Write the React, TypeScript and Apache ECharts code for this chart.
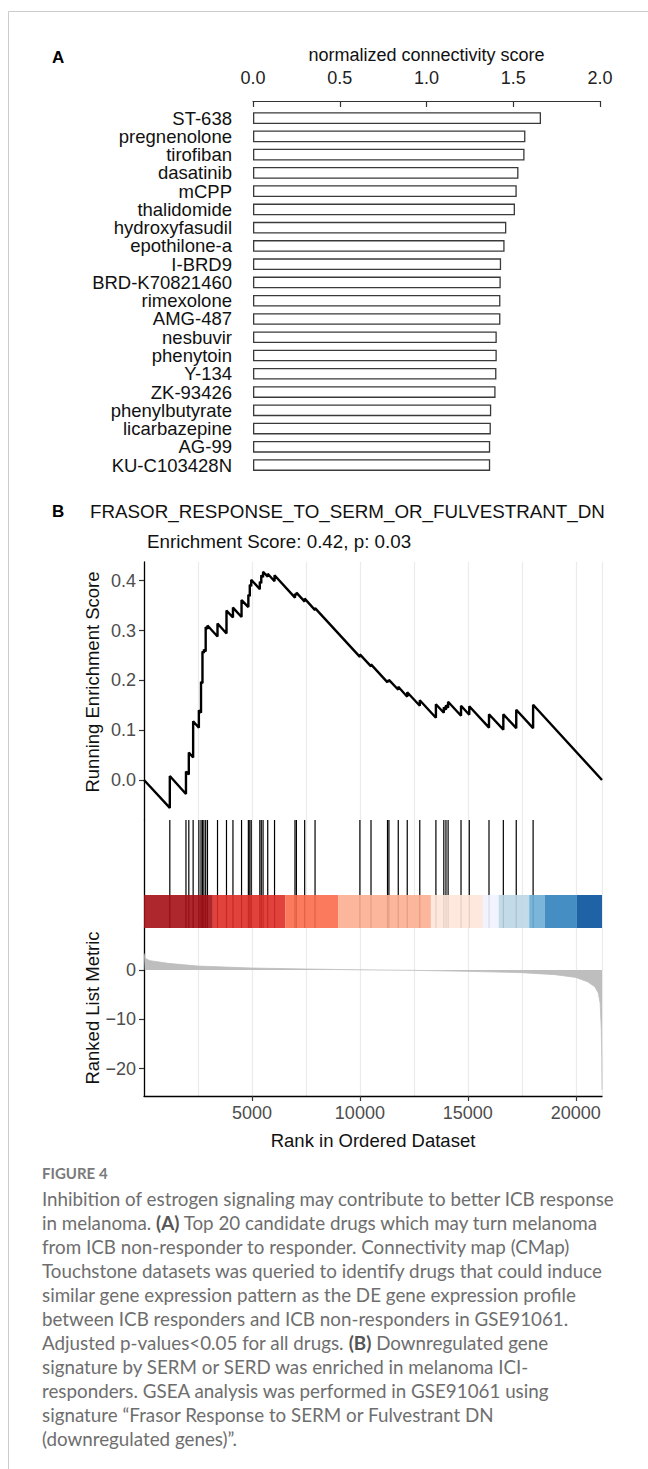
import React, { useEffect, useRef } from 'react';
import * as echarts from 'echarts';

// ---------- Panel A data ----------
const drugNames = [
  'ST-638', 'pregnenolone', 'tirofiban', 'dasatinib', 'mCPP', 'thalidomide',
  'hydroxyfasudil', 'epothilone-a', 'I-BRD9', 'BRD-K70821460', 'rimexolone',
  'AMG-487', 'nesbuvir', 'phenytoin', 'Y-134', 'ZK-93426', 'phenylbutyrate',
  'licarbazepine', 'AG-99', 'KU-C103428N',
];
const drugScores = [
  1.66, 1.57, 1.565, 1.53, 1.52, 1.51, 1.46, 1.45, 1.43, 1.428, 1.426,
  1.426, 1.405, 1.405, 1.403, 1.398, 1.373, 1.371, 1.367, 1.367,
];
const scoreTicks = [0, 0.5, 1, 1.5, 2];

// ---------- Panel B data ----------
const totalGenes = 21214;
const hitRanks = [
  1196, 1944, 2076, 2276, 2541, 2641, 2708, 2774, 2857, 2940, 3405, 3821, 4120,
  4518, 4834, 4900, 4967, 5365, 5432, 5515, 5731, 6046, 6993, 7060, 7442, 7923,
  10000, 10515, 11279, 11345, 11777, 12193, 12774, 13521, 13887, 13986, 14086,
  14684, 15066, 15980, 16644, 17242, 18023,
];
// running enrichment score just before and just after each hit
const esBefore = [
  -0.056, -0.028, 0.011, 0.045, 0.105, 0.135, 0.194, 0.255, 0.258, 0.303, 0.288,
  0.294, 0.326, 0.327, 0.347, 0.369, 0.389, 0.383, 0.395, 0.407, 0.408, 0.399,
  0.366, 0.371, 0.358, 0.341, 0.247, 0.228, 0.196, 0.197, 0.181, 0.167, 0.149,
  0.125, 0.135, 0.141, 0.145, 0.129, 0.131, 0.105, 0.101, 0.104, 0.104,
];
const esAfter = [
  0.008, 0.017, 0.055, 0.118, 0.14, 0.197, 0.258, 0.262, 0.307, 0.31, 0.314,
  0.34, 0.346, 0.361, 0.372, 0.392, 0.402, 0.398, 0.411, 0.418, 0.414, 0.411,
  0.374, 0.376, 0.364, 0.345, 0.252, 0.232, 0.2, 0.201, 0.187, 0.176, 0.16,
  0.152, 0.146, 0.15, 0.157, 0.149, 0.148, 0.132, 0.132, 0.141, 0.151,
];
const esStart = 0;
const esEnd = 0;
const esTicks = [0, 0.1, 0.2, 0.3, 0.4];

const bandStarts = [0, 3189, 6545, 9003, 13289, 15697, 16428, 17840, 18555, 20050];
const bandEnds = [3189, 6545, 9003, 13289, 15697, 16428, 17840, 18555, 20050, 21214];
const bandColors = [
  '#A50F15', '#DE2D26', '#FB6A4A', '#FCAE91', '#FEE5D9',
  '#EFF3FF', '#BDD7E7', '#6BAED6', '#3182BD', '#08519C',
];

const metricRanks = [
  0, 30, 116, 282, 1113, 2500, 5000, 7500, 10000, 12500, 15000, 17500, 19050,
  20000, 20550, 20880, 21046, 21130, 21180, 21205, 21214,
];
const metricValues = [
  3.4, 2.6, 2.2, 1.9, 1.35, 0.8, 0.4, 0.2, 0.03, -0.07, -0.27, -0.54, -0.95,
  -1.5, -2.4, -3.4, -4.7, -6.8, -12, -18, -24.3,
];
const metricTicks = [-20, -10, 0];
const rankTicks = [5000, 10000, 15000, 20000];
const rankGridStep = 2500;

const captionHead = 'FIGURE 4';
const captionLines = [
  'Inhibition of estrogen signaling may contribute to better ICB response',
  'in melanoma. {b|(A)} Top 20 candidate drugs which may turn melanoma',
  'from ICB non-responder to responder. Connectivity map (CMap)',
  'Touchstone datasets was queried to identify drugs that could induce',
  'similar gene expression pattern as the DE gene expression profile',
  'between ICB responders and ICB non-responders in GSE91061.',
  'Adjusted p-values<0.05 for all drugs. {b|(B)} Downregulated gene',
  'signature by SERM or SERD was enriched in melanoma ICI-',
  'responders. GSEA analysis was performed in GSE91061 using',
  'signature \u201CFrasor Response to SERM or Fulvestrant DN',
  '(downregulated genes)\u201D.',
];

const FONT = "'Liberation Sans', Arial, Helvetica, sans-serif";
const CAP_FONT = "Lato, 'Open Sans', sans-serif";
const CAP_SIZE = 18.8;

function buildOption() {
  const esPoints: number[][] = [[0, esStart]];
  hitRanks.forEach((r, i) => {
    esPoints.push([r, esBefore[i]]);
    esPoints.push([r, esAfter[i]]);
  });
  esPoints.push([totalGenes, esEnd]);

  const metricPoints = metricRanks.map((r, i) => [r, metricValues[i]]);
  const bandData = bandStarts.map((s, i) => [s, bandEnds[i], i]);

  const gridX = { left: 144, right: 46 };
  const hiddenGridAxis = (gridIndex: number) => ({
    gridIndex,
    type: 'value',
    position: 'bottom',
    min: 0,
    max: totalGenes,
    interval: rankGridStep,
    axisLine: { show: false },
    axisTick: { show: false },
    axisLabel: { show: false },
    splitLine: { show: true, lineStyle: { color: '#EBEBEB', width: 1.2 } },
  });

  const graphic: any[] = [
    { type: 'line', silent: true, shape: { x1: 8.5, y1: 11.5, x2: 8.5, y2: 1469 }, style: { stroke: '#cccccc', lineWidth: 1 } },
    { type: 'line', silent: true, shape: { x1: 8.5, y1: 11.5, x2: 648, y2: 11.5 }, style: { stroke: '#cccccc', lineWidth: 1 } },
    { type: 'text', x: 52, y: 57, style: { text: 'A', fontSize: 17, fontWeight: 'bold', fontFamily: FONT, fill: '#000', verticalAlign: 'middle' } },
    { type: 'text', x: 426.5, y: 55, style: { text: 'normalized connectivity score', fontSize: 18, fontFamily: FONT, fill: '#111', align: 'center', verticalAlign: 'middle' } },
    { type: 'text', x: 52, y: 511, style: { text: 'B', fontSize: 17, fontWeight: 'bold', fontFamily: FONT, fill: '#000', verticalAlign: 'middle' } },
    { type: 'text', x: 90, y: 511, style: { text: 'FRASOR_RESPONSE_TO_SERM_OR_FULVESTRANT_DN', fontSize: 18.8, fontFamily: FONT, fill: '#111', verticalAlign: 'middle' } },
    { type: 'text', x: 147, y: 541, style: { text: 'Enrichment Score: 0.42, p: 0.03', fontSize: 18.8, fontFamily: FONT, fill: '#111', verticalAlign: 'middle' } },
    { type: 'text', x: 92, y: 682, rotation: Math.PI / 2, style: { text: 'Running Enrichment Score', fontSize: 18.5, fontFamily: FONT, fill: '#111', align: 'center', verticalAlign: 'middle' } },
    { type: 'text', x: 92, y: 1008, rotation: Math.PI / 2, style: { text: 'Ranked List Metric', fontSize: 18.5, fontFamily: FONT, fill: '#111', align: 'center', verticalAlign: 'middle' } },
    { type: 'text', x: 373, y: 1140, style: { text: 'Rank in Ordered Dataset', fontSize: 18.5, fontFamily: FONT, fill: '#111', align: 'center', verticalAlign: 'middle' } },
    { type: 'text', x: 42, y: 1173, style: { text: captionHead, fontSize: 15, fontWeight: 'bold', fontFamily: CAP_FONT, fill: '#7a7a7a', verticalAlign: 'middle' } },
  ];
  captionLines.forEach((t, i) => {
    graphic.push({
      type: 'text',
      x: 42,
      y: 1198 + 24 * i,
      style: {
        text: t,
        fontSize: CAP_SIZE,
        fontFamily: CAP_FONT,
        fill: '#6e6e6e',
        verticalAlign: 'middle',
        rich: { b: { fontSize: CAP_SIZE, fontFamily: CAP_FONT, fontWeight: 'bold', fill: '#555555' } },
      },
    });
  });

  return {
    animation: false,
    backgroundColor: '#ffffff',
    textStyle: { fontFamily: FONT },
    grid: [
      { left: 253, right: 48, top: 109, height: 365.2, outerBoundsMode: 'none' },
      { ...gridX, top: 562, height: 258, outerBoundsMode: 'none' },
      { ...gridX, top: 820, height: 108, outerBoundsMode: 'none' },
      { ...gridX, top: 928, height: 168, outerBoundsMode: 'none' },
    ],
    xAxis: [
      {
        gridIndex: 0,
        type: 'value',
        position: 'top',
        offset: 8,
        min: scoreTicks[0],
        max: scoreTicks[scoreTicks.length - 1],
        interval: 0.5,
        axisLine: { show: true, onZero: false, lineStyle: { color: '#333', width: 1.2 } },
        axisTick: { show: true, inside: true, length: 6, lineStyle: { color: '#333', width: 1.2 } },
        axisLabel: { fontSize: 18, color: '#222', margin: 14, fontFamily: FONT, formatter: (v: number) => v.toFixed(1) },
        splitLine: { show: false },
      },
      hiddenGridAxis(1),
      hiddenGridAxis(2),
      hiddenGridAxis(3),
      {
        gridIndex: 3,
        type: 'value',
        position: 'bottom',
        min: 0,
        max: totalGenes,
        axisLine: { show: true, onZero: false, lineStyle: { color: '#000', width: 1.3 } },
        axisTick: { show: true, length: 5, customValues: rankTicks, lineStyle: { color: '#333', width: 1.2 } },
        axisLabel: {
          show: true, customValues: rankTicks, fontSize: 18, color: '#4D4D4D', margin: 8, fontFamily: FONT,
          formatter: (v: number) => String(v),
        },
        splitLine: { show: false },
      },
    ],
    yAxis: [
      {
        gridIndex: 0,
        type: 'category',
        inverse: true,
        data: drugNames,
        axisLine: { show: false },
        axisTick: { show: false },
        axisLabel: { interval: 0, fontSize: 18.5, color: '#111', margin: 21, fontFamily: FONT },
      },
      {
        gridIndex: 1,
        type: 'value',
        position: 'left',
        min: -0.0803,
        max: 0.4375,
        axisLine: { show: true, onZero: false, lineStyle: { color: '#000', width: 1.3 } },
        axisTick: { show: true, length: 5, customValues: esTicks, lineStyle: { color: '#333', width: 1.2 } },
        axisLabel: { show: true, customValues: esTicks, fontSize: 18, color: '#4D4D4D', margin: 8, fontFamily: FONT, formatter: (v: number) => v.toFixed(1) },
        splitLine: { show: false },
      },
      {
        gridIndex: 2,
        type: 'value',
        position: 'left',
        min: 0,
        max: 1,
        axisLine: { show: true, onZero: false, lineStyle: { color: '#000', width: 1.3 } },
        axisTick: { show: false },
        axisLabel: { show: false },
        splitLine: { show: false },
      },
      {
        gridIndex: 3,
        type: 'value',
        position: 'left',
        min: -25.56,
        max: 8.52,
        axisLine: { show: true, onZero: false, lineStyle: { color: '#000', width: 1.3 } },
        axisTick: { show: true, length: 5, customValues: metricTicks, lineStyle: { color: '#333', width: 1.2 } },
        axisLabel: {
          show: true, customValues: metricTicks, fontSize: 18, color: '#4D4D4D', margin: 8, fontFamily: FONT,
          formatter: (v: number) => (v < 0 ? '\u2212' + Math.abs(v) : String(v)),
        },
        splitLine: { show: false },
      },
    ],
    series: [
      {
        type: 'bar',
        xAxisIndex: 0,
        yAxisIndex: 0,
        data: drugScores,
        barWidth: 11.7,
        itemStyle: { color: '#ffffff', borderColor: '#3a3a3a', borderWidth: 1.3 },
      },
      {
        type: 'line',
        xAxisIndex: 1,
        yAxisIndex: 1,
        data: esPoints,
        showSymbol: false,
        symbol: 'none',
        lineStyle: { color: '#000', width: 2.4 },
        z: 5,
      },
      {
        type: 'custom',
        xAxisIndex: 2,
        yAxisIndex: 2,
        data: hitRanks.map((r) => [r]),
        z: 2,
        renderItem: (params: any, api: any) => {
          const x = api.coord([api.value(0), 0])[0];
          const yTop = api.coord([api.value(0), 1])[1];
          const yBot = api.coord([api.value(0), 0])[1];
          return {
            type: 'line',
            shape: { x1: x, y1: yTop, x2: x, y2: yBot },
            style: { stroke: '#000', lineWidth: 1.2 },
          };
        },
      },
      {
        type: 'custom',
        xAxisIndex: 2,
        yAxisIndex: 2,
        data: bandData,
        z: 3,
        renderItem: (params: any, api: any) => {
          const p0 = api.coord([api.value(0), 0.3056]);
          const p1 = api.coord([api.value(1), 0]);
          return {
            type: 'rect',
            shape: { x: p0[0], y: p0[1], width: p1[0] - p0[0], height: p1[1] - p0[1] },
            style: { fill: bandColors[api.value(2)], opacity: 0.9 },
          };
        },
      },
      {
        type: 'line',
        xAxisIndex: 4,
        yAxisIndex: 3,
        data: metricPoints,
        showSymbol: false,
        symbol: 'none',
        lineStyle: { color: '#BEBEBE', width: 0.8 },
        areaStyle: { color: '#BEBEBE', opacity: 1 },
      },
    ],
    graphic,
  };
}

export default function App() {
  const ref = useRef<HTMLDivElement>(null);
  useEffect(() => {
    if (!ref.current) return;
    const chart = echarts.init(ref.current, undefined, { renderer: 'svg', width: 648, height: 1469 });
    chart.setOption(buildOption() as any);
    return () => chart.dispose();
  }, []);
  return (
    <div
      ref={ref}
      style={{ position: 'absolute', left: 0, top: 0, width: 648, height: 1469, background: '#fff' }}
    />
  );
}
